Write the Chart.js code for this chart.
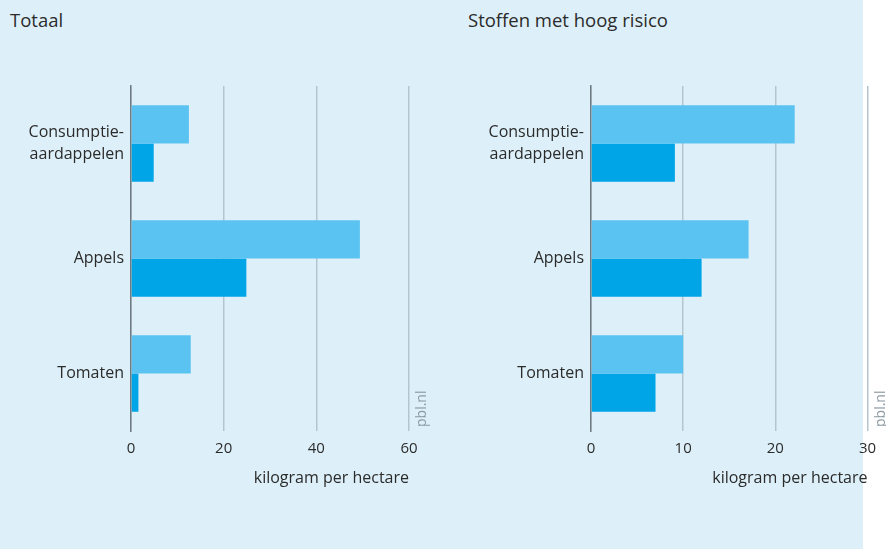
<!DOCTYPE html>
<html>
<head>
<meta charset="utf-8">
<script src="https://cdn.jsdelivr.net/npm/chart.js@4"></script>
<style>
  html, body { margin: 0; padding: 0; background: #ffffff; width: 886px; height: 549px; overflow: hidden; }
  #bg { position: absolute; left: 0; top: 0; width: 863px; height: 549px; background: #ddf0f9; }
  .ttl { position: absolute; top: 7px; font-family: "Open Sans", sans-serif; font-size: 18.5px; color: #2b2b2b; white-space: nowrap; }
  .wrap { position: absolute; top: 0; height: 549px; }
</style>
</head>
<body>
<div id="bg"></div>
<div class="ttl" style="left:10px">Totaal</div>
<div class="ttl" style="left:468px">Stoffen met hoog risico</div>
<div class="wrap" style="left:0px;width:440px"><canvas id="c1"></canvas></div>
<div class="wrap" style="left:460px;width:426px"><canvas id="c2"></canvas></div>
<script>
// ---- data ----
const categories = [['Consumptie-', 'aardappelen'], 'Appels', 'Tomaten'];
const seriesNames = ['Periode 1', 'Periode 2'];
const totaalPeriode1 = [12.5, 49.4, 12.9];
const totaalPeriode2 = [4.9, 24.9, 1.6];
const risicoPeriode1 = [22.1, 17.1, 10.0];
const risicoPeriode2 = [9.1, 12.0, 7.0];
const totaalTicks = [0, 20, 40, 60];
const risicoTicks = [0, 10, 20, 30];
const axisTitle = 'kilogram per hectare';
const sourceLabel = 'pbl.nl';

const FONT = '"Open Sans", sans-serif';
const TEXT = '#2b2b2b';
const LIGHT = '#5bc3f1';
const DARK = '#00a5e7';

const pblPlugin = {
  id: 'pbl',
  afterDraw(chart) {
    const ctx = chart.ctx, a = chart.chartArea;
    ctx.save();
    ctx.translate(a.right + 13.5, a.bottom - 4);
    ctx.rotate(-Math.PI / 2);
    ctx.font = '14px ' + FONT;
    ctx.fillStyle = '#8c9aa2';
    ctx.textAlign = 'left';
    ctx.textBaseline = 'middle';
    ctx.fillText(sourceLabel, 0, 0);
    ctx.restore();
  }
};

function makeChart(id, d1, d2, ticks, padRight) {
  const max = ticks[ticks.length - 1];
  const step = ticks[1] - ticks[0];
  return new Chart(document.getElementById(id), {
    type: 'bar',
    data: {
      labels: categories,
      datasets: [
        { label: seriesNames[0], data: d1, backgroundColor: LIGHT, borderWidth: 0 },
        { label: seriesNames[1], data: d2, backgroundColor: DARK, borderWidth: 0 }
      ]
    },
    options: {
      indexAxis: 'y',
      responsive: true,
      maintainAspectRatio: false,
      animation: false,
      categoryPercentage: 0.665,
      barPercentage: 1.0,
      layout: { padding: { top: 86, right: padRight, left: 0, bottom: 0 } },
      plugins: { legend: { display: false }, tooltip: { enabled: false }, title: { display: false } },
      scales: {
        x: {
          type: 'linear', min: 0, max: max,
          afterFit(axis) { axis.height = 118; },
          afterBuildTicks(axis) { axis.ticks = ticks.map(v => ({ value: v })); },
          grid: { color: '#b5c5cd', lineWidth: 1.5, drawTicks: false },
          border: { display: false },
          ticks: { stepSize: step, padding: 9, color: TEXT, font: { family: FONT, size: 15 }, maxRotation: 0 },
          title: { display: true, text: axisTitle, align: 'end', color: TEXT, font: { family: FONT, size: 16 }, padding: { top: 0, bottom: 61 } }
        },
        y: {
          afterFit(axis) { axis.width = 131; },
          grid: { display: false, drawTicks: false },
          border: { display: true, color: '#6f7b82', width: 1.5 },
          ticks: { padding: 7, color: TEXT, font: { family: FONT, size: 16, lineHeight: 1.4 } }
        }
      }
    },
    plugins: [pblPlugin]
  });
}

makeChart('c1', totaalPeriode1, totaalPeriode2, totaalTicks, 31);
makeChart('c2', risicoPeriode1, risicoPeriode2, risicoTicks, 18.5);
</script>
</body>
</html>
